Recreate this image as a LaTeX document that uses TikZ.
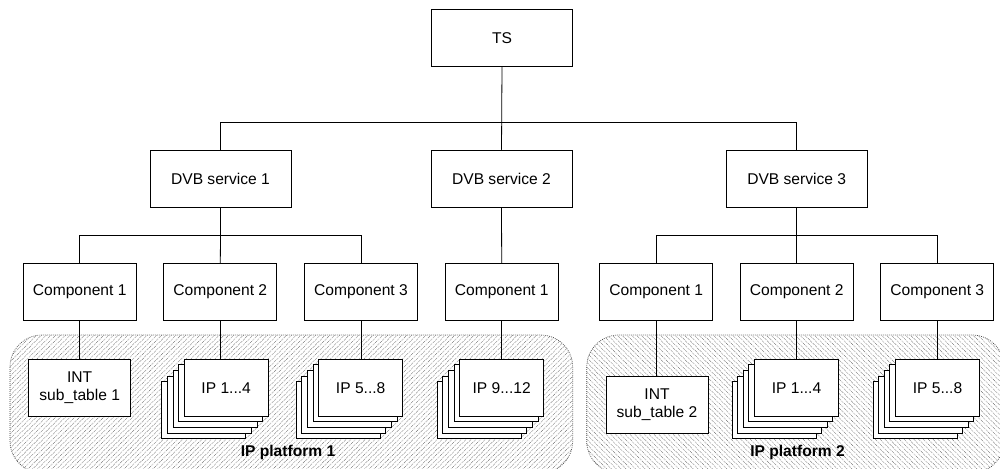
\documentclass[tikz,border=0pt]{standalone}
\usepackage{fontspec}
\setmainfont{Liberation Sans}
\usetikzlibrary{patterns.meta}
\begin{document}
\begin{tikzpicture}[x=1pt,y=-1pt,
  box/.style={draw=black,line width=0.9pt,fill=white,minimum height=57pt,inner sep=0pt,
    font=\fontsize{15.6}{18}\selectfont,align=center},
  bigbox/.style={box,minimum width=141pt},
  compbox/.style={box,minimum width=113pt},
  intbox/.style={box,minimum width=102pt},
  ipbox/.style={box,minimum width=84pt},
  layer/.style={draw=black,line width=0.9pt,fill=white},
  link/.style={draw=black,line width=0.8pt},
  platform/.style={draw=black!75,line width=0.7pt,dash pattern=on 0.8pt off 1.2pt,rounded corners=32pt},
  platlabel/.style={font=\fontsize{15.6}{18}\selectfont\bfseries,inner sep=0pt}]
\useasboundingbox (0,0) rectangle (1000,468);
\clip (0,0) rectangle (1000,468);
\fill[white] (0,0) rectangle (1000,468);
% platforms
\path[platform,pattern={Lines[angle=45,distance=3.4pt,line width=0.6pt]},pattern color=black!50]
  (10,335) rectangle (572.7,473);
\path[platform,pattern={Lines[angle=-45,distance=3.4pt,line width=0.6pt]},pattern color=black!50]
  (586.7,335) rectangle (1004,473);
\node[platlabel] (pl1) at (288,452) {IP platform 1};
\node[platlabel] (pl2) at (797.5,452) {IP platform 2};
% upper nodes
\node[bigbox] (ts) at (502,37.7) {TS};
\node[bigbox] (dvb1) at (220.5,178.7) {DVB service 1};
\node[bigbox] (dvb2) at (501.5,178.7) {DVB service 2};
\node[bigbox] (dvb3) at (796.7,179.3) {DVB service 3};
\coordinate (bus1) at (0,122.7);
\coordinate (bus2) at (0,235.2);
\node[compbox] (c11) at (79.7,291.7) {Component 1};
\node[compbox] (c12) at (220.3,291.7) {Component 2};
\node[compbox] (c13) at (361,291.7) {Component 3};
\node[compbox] (c21) at (501.7,291.7) {Component 1};
\node[compbox] (c31) at (656.2,292) {Component 1};
\node[compbox] (c32) at (796.7,292) {Component 2};
\node[compbox] (c33) at (937.3,292) {Component 3};
% connectors top
\draw[link] (ts.south) -- (dvb2.north);
\draw[link] (dvb1.north) |- (dvb3.north |- bus1) -- (dvb3.north);
\draw[link] (dvb1.south) -- (dvb1.south |- bus2);
\draw[link] (c11.north) |- (c13.north |- bus2) -- (c13.north);
\draw[link] (dvb1.south |- bus2) -- (c12.north);
\draw[link] (dvb2.south) -- (c21.north);
\draw[link] (dvb3.south) -- (dvb3.south |- bus2);
\draw[link] (c31.north) |- (c33.north |- bus2) -- (c33.north);
\draw[link] (dvb3.south |- bus2) -- (c32.north);
% stacks of IP boxes
\newcommand\ipstack[3]{%
  \foreach \k in {4,3,2,1}{\draw[layer] (#2-42-5.6*\k,359.3+5.6*\k) rectangle ++(84,57);}
  \node[ipbox] (#1) at (#2,387.8) {#3};}
\node[intbox] (int1) at (79.7,388) {INT\\sub\_table 1};
\ipstack{ip1}{226.2}{IP 1...4}
\ipstack{ip2}{360.7}{IP 5...8}
\ipstack{ip3}{501.7}{IP 9...12}
\node[intbox] (int2) at (657,405) {INT\\sub\_table 2};
\ipstack{ip4}{796.5}{IP 1...4}
\ipstack{ip5}{937.5}{IP 5...8}
% connectors bottom
\draw[link] (c11.south) -- (int1.north);
\draw[link] (c12.south) -- (c12.south |- ip1.north);
\draw[link] (c13.south) -- (c13.south |- ip2.north);
\draw[link] (c21.south) -- (c21.south |- ip3.north);
\draw[link] (c31.south) -- (c31.south |- int2.north);
\draw[link] (c32.south) -- (c32.south |- ip4.north);
\draw[link] (c33.south) -- (c33.south |- ip5.north);
\end{tikzpicture}
\end{document}
